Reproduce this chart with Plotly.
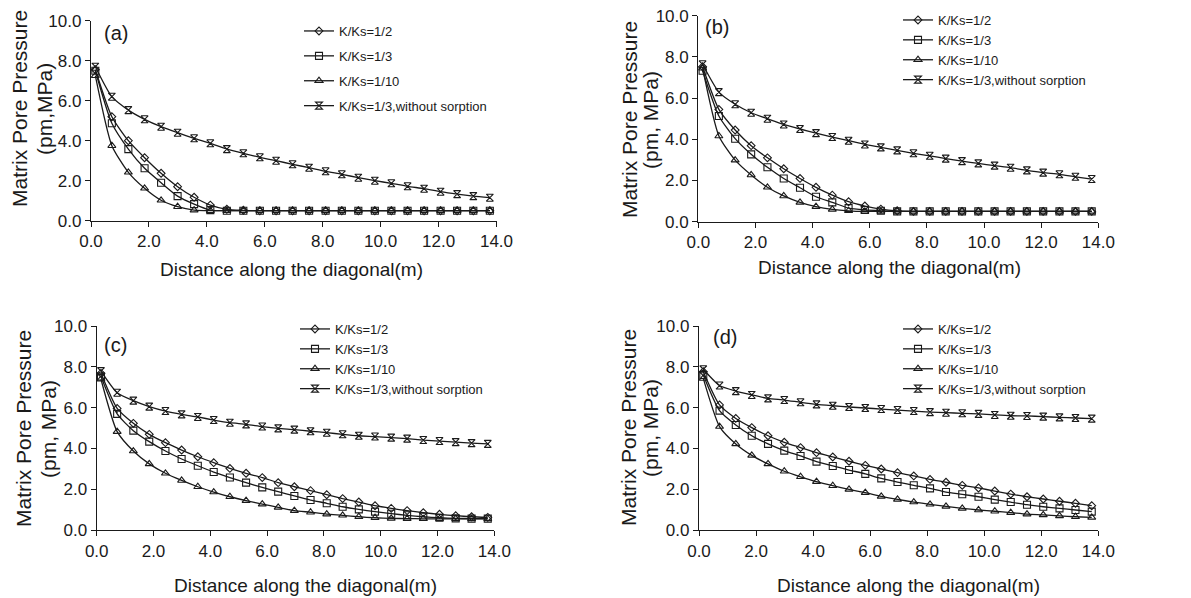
import plotly.graph_objects as go

# ---------------- data ----------------
distance = [0.15, 0.72, 1.29, 1.85, 2.42, 2.99, 3.56, 4.12, 4.69, 5.26, 5.83, 6.39, 6.96,
            7.53, 8.10, 8.66, 9.23, 9.80, 10.37, 10.93, 11.50, 12.07, 12.64, 13.20, 13.77]

series_names = ["K/Ks=1/2", "K/Ks=1/3", "K/Ks=1/10", "K/Ks=1/3,without sorption"]
panel_labels = ["(a)", "(b)", "(c)", "(d)"]
x_ticks = [0, 2, 4, 6, 8, 10, 12, 14]
y_ticks = [0, 2, 4, 6, 8, 10]

a_half = [7.55, 5.2, 4.0, 3.15, 2.37, 1.7, 1.17, 0.78, 0.57, 0.52, 0.5, 0.5, 0.5,
          0.5, 0.5, 0.5, 0.5, 0.5, 0.5, 0.5, 0.5, 0.5, 0.5, 0.5, 0.5]
a_third = [7.5, 4.87, 3.58, 2.62, 1.9, 1.23, 0.83, 0.53, 0.5, 0.5, 0.5, 0.5, 0.5,
           0.5, 0.5, 0.5, 0.5, 0.5, 0.5, 0.5, 0.5, 0.5, 0.5, 0.5, 0.5]
a_tenth = [7.25, 3.75, 2.42, 1.62, 1.02, 0.7, 0.53, 0.5, 0.5, 0.5, 0.5, 0.5, 0.5,
           0.5, 0.5, 0.5, 0.5, 0.5, 0.5, 0.5, 0.5, 0.5, 0.5, 0.5, 0.5]
a_nosorp = [7.7, 6.2, 5.53, 5.07, 4.7, 4.4, 4.12, 3.87, 3.58, 3.37, 3.17, 3.0, 2.82,
            2.65, 2.47, 2.32, 2.15, 2.0, 1.87, 1.72, 1.6, 1.45, 1.33, 1.23, 1.15]

b_half = [7.52, 5.45, 4.45, 3.69, 3.1, 2.57, 2.1, 1.67, 1.29, 0.97, 0.76, 0.61, 0.53,
          0.5, 0.5, 0.5, 0.5, 0.5, 0.5, 0.5, 0.5, 0.5, 0.5, 0.5, 0.5]
b_third = [7.33, 5.13, 4.03, 3.27, 2.64, 2.1, 1.65, 1.21, 0.94, 0.66, 0.57, 0.53, 0.5,
           0.5, 0.5, 0.5, 0.5, 0.5, 0.5, 0.5, 0.5, 0.5, 0.5, 0.5, 0.5]
b_tenth = [7.45, 4.16, 2.99, 2.27, 1.67, 1.25, 0.94, 0.73, 0.6, 0.53, 0.5, 0.5, 0.5,
           0.5, 0.5, 0.5, 0.5, 0.5, 0.5, 0.5, 0.5, 0.5, 0.5, 0.5, 0.5]
b_nosorp = [7.64, 6.29, 5.7, 5.29, 5.0, 4.72, 4.5, 4.3, 4.11, 3.93, 3.75, 3.61, 3.46,
            3.32, 3.2, 3.06, 2.94, 2.83, 2.72, 2.62, 2.49, 2.38, 2.3, 2.18, 2.07]

c_half = [7.68, 5.96, 5.23, 4.69, 4.28, 3.92, 3.59, 3.3, 3.02, 2.78, 2.57, 2.32, 2.12,
          1.93, 1.73, 1.54, 1.37, 1.19, 1.06, 0.95, 0.85, 0.77, 0.7, 0.65, 0.62]
c_third = [7.52, 5.69, 4.87, 4.33, 3.87, 3.48, 3.15, 2.84, 2.57, 2.32, 2.09, 1.88, 1.67,
           1.47, 1.31, 1.14, 1.01, 0.9, 0.8, 0.72, 0.65, 0.6, 0.57, 0.56, 0.56]
c_tenth = [7.39, 4.82, 3.87, 3.24, 2.78, 2.43, 2.12, 1.86, 1.63, 1.44, 1.27, 1.11, 0.95,
           0.87, 0.78, 0.72, 0.65, 0.6, 0.57, 0.56, 0.55, 0.55, 0.55, 0.55, 0.55]
c_nosorp = [7.79, 6.73, 6.34, 6.05, 5.83, 5.67, 5.54, 5.39, 5.26, 5.18, 5.07, 4.98, 4.92,
            4.84, 4.77, 4.69, 4.62, 4.58, 4.53, 4.48, 4.41, 4.36, 4.31, 4.26, 4.22]

d_half = [7.76, 6.13, 5.47, 5.02, 4.62, 4.3, 4.04, 3.79, 3.58, 3.37, 3.17, 2.99, 2.81,
          2.65, 2.48, 2.34, 2.19, 2.06, 1.91, 1.76, 1.63, 1.52, 1.41, 1.31, 1.19]
d_third = [7.6, 5.85, 5.15, 4.62, 4.22, 3.89, 3.63, 3.35, 3.14, 2.94, 2.75, 2.53, 2.35,
           2.19, 2.04, 1.86, 1.75, 1.63, 1.49, 1.37, 1.24, 1.14, 1.06, 0.98, 0.9]
d_tenth = [7.43, 5.07, 4.22, 3.66, 3.24, 2.88, 2.61, 2.37, 2.17, 1.99, 1.83, 1.65, 1.5,
           1.37, 1.26, 1.16, 1.06, 0.98, 0.92, 0.85, 0.78, 0.74, 0.69, 0.65, 0.62]
d_nosorp = [7.88, 7.08, 6.81, 6.62, 6.45, 6.37, 6.26, 6.16, 6.09, 6.03, 5.98, 5.93, 5.88,
            5.83, 5.78, 5.75, 5.72, 5.69, 5.64, 5.6, 5.59, 5.56, 5.52, 5.49, 5.46]

panels = [
    [a_half, a_third, a_tenth, a_nosorp],
    [b_half, b_third, b_tenth, b_nosorp],
    [c_half, c_third, c_tenth, c_nosorp],
    [d_half, d_third, d_tenth, d_nosorp],
]
y_title_line1 = "Matrix Pore Pressure"
y_title_line2 = ["(pm,MPa)", "(pm, MPa)", "(pm, MPa)", "(pm, MPa)"]
x_title = "Distance along the diagonal(m)"

# ---------------- styling / layout ----------------
W, H = 1191, 598
OFF = 8  # default page body margin shifts the figure by 8 px
FONT = "Arial, 'Liberation Sans', sans-serif"
INK = "#1a1a1a"
symbols = ["diamond-open", "square-open", "triangle-up-open", "hourglass-open"]
sizes = [6, 7, 7, 7]


def fx(px):
    return (px - OFF) / W


def fy(py):
    return 1 - (py - OFF) / H


# screen-pixel boxes of plotting areas: (left, right, top, bottom)
boxes = [(91, 496.5, 20.7, 220.7), (698.3, 1098.3, 15.7, 221.7),
         (96.7, 494.3, 326, 530), (699, 1098.3, 326, 530)]
legend_pos = [(299, 16, 5), (898, 5, 0), (295, 314, 0), (898, 314, 0)]
label_pos = [(0.38, 9.4), (0.16, 9.45), (0.19, 9.07), (0.42, 9.45)]
# screen-pixel centres for axis-title text
xtitle_pos = [(291, 269), (889, 268), (305, 585), (908, 585)]
ytitle_pos = [(19, 44, 109), (630, 651, 120), (23, 48, 429), (628, 650, 428)]

fig = go.Figure()
annotations = []
layout = dict(
    width=W, height=H, margin=dict(l=0, r=0, t=0, b=0, autoexpand=False),
    paper_bgcolor="white", plot_bgcolor="white",
    font=dict(family=FONT, color=INK),
)

for p in range(4):
    sfx = "" if p == 0 else str(p + 1)
    leg = "legend" if p == 0 else f"legend{p + 1}"
    for s in range(4):
        fig.add_trace(go.Scatter(
            x=distance, y=panels[p][s], name=series_names[s],
            mode="lines+markers",
            line=dict(color=INK, width=1.3, shape="spline", smoothing=0.6),
            marker=dict(symbol=symbols[s], size=sizes[s], color=INK,
                        line=dict(color=INK, width=1.1)),
            xaxis="x" + sfx, yaxis="y" + sfx, legend=leg,
            legendgroup=f"g{p}_{s}", cliponaxis=False,
        ))
    l, r, t, b = boxes[p]
    axis_common = dict(showline=True, linecolor=INK, linewidth=1.3, ticks="outside",
                       ticklen=5, tickwidth=1.3, tickcolor=INK, showgrid=False,
                       zeroline=False, tickformat=".1f", automargin=False,
                       ticklabeloverflow="allow",
                       tickfont=dict(size=17, family=FONT, color=INK))
    layout["xaxis" + sfx] = dict(
        axis_common, domain=[fx(l), fx(r)], range=[0, 14], tickvals=x_ticks,
        anchor="y" + sfx,
    )
    layout["yaxis" + sfx] = dict(
        axis_common, domain=[fy(b), fy(t)], range=[0, 10], tickvals=y_ticks,
        anchor="x" + sfx,
    )
    lx, ly, gap = legend_pos[p]
    layout[leg] = dict(
        x=fx(lx), y=fy(ly), xanchor="left", yanchor="top",
        bgcolor="rgba(0,0,0,0)", borderwidth=0,
        font=dict(size=13, family=FONT, color=INK),
        tracegroupgap=gap, itemwidth=30,
    )
    lab_x, lab_y = label_pos[p]
    annotations.append(dict(
        text=panel_labels[p], x=lab_x, y=lab_y, xref="x" + sfx, yref="y" + sfx,
        showarrow=False, xanchor="left", yanchor="middle",
        font=dict(size=20, family=FONT, color=INK),
    ))
    tx, ty = xtitle_pos[p]
    annotations.append(dict(
        text=x_title, x=fx(tx), y=fy(ty), xref="paper", yref="paper",
        showarrow=False, xanchor="center", yanchor="middle",
        font=dict(size=19, family=FONT, color=INK),
    ))
    y1x, y2x, yc = ytitle_pos[p]
    for txt, px in ((y_title_line1, y1x), (y_title_line2[p], y2x)):
        annotations.append(dict(
            text=txt, x=fx(px), y=fy(yc), xref="paper", yref="paper",
            showarrow=False, xanchor="center", yanchor="middle", textangle=-90,
            font=dict(size=21, family=FONT, color=INK),
        ))

layout["annotations"] = annotations
fig.update_layout(**layout)
fig.write_html("out.html")
